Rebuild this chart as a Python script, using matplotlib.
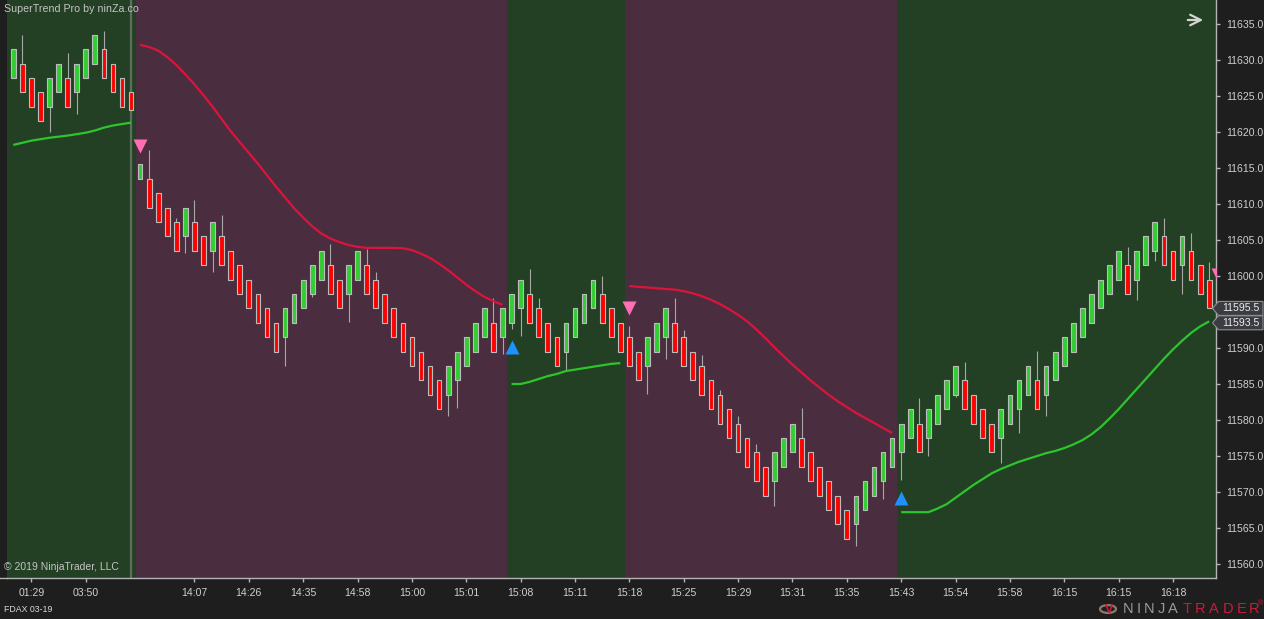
import matplotlib
matplotlib.use('Agg')
import matplotlib.pyplot as plt
import matplotlib.transforms as mtransforms
from matplotlib.patches import Rectangle, Polygon, Circle, FancyArrowPatch

plt.rcParams['font.family'] = ['Liberation Sans', 'DejaVu Sans']

# ---------------- data ----------------
opens = [11627.5, 11629.5, 11627.5, 11625.5, 11623.5, 11625.5, 11627.5, 11625.5, 11627.5, 11629.5,
         11631.5, 11629.5, 11627.5, 11625.5, 11613.5, 11613.5, 11611.5, 11609.5, 11607.5, 11605.5,
         11607.5, 11605.5, 11603.5, 11605.5, 11603.5, 11601.5, 11599.5, 11597.5, 11595.5, 11593.5,
         11591.5, 11593.5, 11595.5, 11597.5, 11599.5, 11601.5, 11599.5, 11597.5, 11599.5, 11601.5,
         11599.5, 11597.5, 11595.5, 11593.5, 11591.5, 11589.5, 11587.5, 11585.5, 11583.5, 11585.5,
         11587.5, 11589.5, 11591.5, 11593.5, 11591.5, 11593.5, 11595.5, 11597.5, 11595.5, 11593.5,
         11591.5, 11589.5, 11591.5, 11593.5, 11595.5, 11597.5, 11595.5, 11593.5, 11591.5, 11589.5,
         11587.5, 11589.5, 11591.5, 11593.5, 11591.5, 11589.5, 11587.5, 11585.5, 11583.5, 11581.5,
         11579.5, 11577.5, 11575.5, 11573.5, 11571.5, 11573.5, 11575.5, 11577.5, 11575.5, 11573.5,
         11571.5, 11569.5, 11567.5, 11565.5, 11567.5, 11569.5, 11571.5, 11573.5, 11575.5, 11577.5,
         11579.5, 11577.5, 11579.5, 11581.5, 11583.5, 11585.5, 11583.5, 11581.5, 11579.5, 11577.5,
         11579.5, 11581.5, 11583.5, 11585.5, 11583.5, 11585.5, 11587.5, 11589.5, 11591.5, 11593.5,
         11595.5, 11597.5, 11599.5, 11601.5, 11599.5, 11601.5, 11603.5, 11605.5, 11603.5, 11601.5,
         11603.5, 11601.5, 11599.5]
closes = [11631.5, 11625.5, 11623.5, 11621.5, 11627.5, 11629.5, 11623.5, 11629.5, 11631.5, 11633.5,
          11627.5, 11625.5, 11623.5, 11623.0, 11615.5, 11609.5, 11607.5, 11605.5, 11603.5, 11609.5,
          11603.5, 11601.5, 11607.5, 11601.5, 11599.5, 11597.5, 11595.5, 11593.5, 11591.5, 11589.5,
          11595.5, 11597.5, 11599.5, 11601.5, 11603.5, 11597.5, 11595.5, 11601.5, 11603.5, 11597.5,
          11595.5, 11593.5, 11591.5, 11589.5, 11587.5, 11585.5, 11583.5, 11581.5, 11587.5, 11589.5,
          11591.5, 11593.5, 11595.5, 11589.5, 11595.5, 11597.5, 11599.5, 11593.5, 11591.5, 11589.5,
          11587.5, 11593.5, 11595.5, 11597.5, 11599.5, 11593.5, 11591.5, 11589.5, 11587.5, 11585.5,
          11591.5, 11593.5, 11595.5, 11589.5, 11587.5, 11585.5, 11583.5, 11581.5, 11579.5, 11577.5,
          11575.5, 11573.5, 11571.5, 11569.5, 11575.5, 11577.5, 11579.5, 11573.5, 11571.5, 11569.5,
          11567.5, 11565.5, 11563.5, 11569.5, 11571.5, 11573.5, 11575.5, 11577.5, 11579.5, 11581.5,
          11575.5, 11581.5, 11583.5, 11585.5, 11587.5, 11581.5, 11579.5, 11577.5, 11575.5, 11581.5,
          11583.5, 11585.5, 11587.5, 11581.5, 11587.5, 11589.5, 11591.5, 11593.5, 11595.5, 11597.5,
          11599.5, 11601.5, 11603.5, 11597.5, 11603.5, 11605.5, 11607.5, 11601.5, 11599.5, 11605.5,
          11599.5, 11597.5, 11595.5]
highs = [11631.5, 11633.5, 11627.5, 11625.5, 11627.5, 11629.5, 11631.0, 11629.5, 11631.5, 11633.5,
         11634.0, 11629.5, 11627.5, 11625.5, 11615.5, 11617.5, 11611.5, 11609.5, 11608.0, 11609.5,
         11610.5, 11605.5, 11607.5, 11608.5, 11603.5, 11601.5, 11599.5, 11597.5, 11595.5, 11593.5,
         11595.5, 11597.5, 11599.5, 11601.5, 11603.5, 11604.5, 11599.5, 11601.5, 11603.5, 11603.7,
         11600.5, 11597.5, 11595.5, 11593.5, 11591.5, 11589.5, 11587.5, 11585.5, 11587.5, 11589.5,
         11591.5, 11593.5, 11595.5, 11597.0, 11595.5, 11597.5, 11599.5, 11601.0, 11597.0, 11593.5,
         11591.5, 11593.5, 11595.5, 11597.5, 11599.5, 11600.0, 11595.5, 11593.5, 11593.0, 11589.5,
         11591.5, 11593.5, 11595.5, 11597.0, 11592.5, 11589.5, 11589.0, 11585.5, 11584.2, 11581.5,
         11580.6, 11577.5, 11576.6, 11573.5, 11575.5, 11577.5, 11579.5, 11581.6, 11575.5, 11573.5,
         11571.5, 11569.5, 11567.5, 11569.5, 11571.5, 11573.5, 11575.5, 11577.5, 11579.5, 11581.5,
         11583.0, 11581.5, 11583.5, 11585.5, 11587.5, 11588.0, 11583.5, 11581.5, 11579.5, 11581.5,
         11583.5, 11585.5, 11587.5, 11589.6, 11587.5, 11589.5, 11591.5, 11593.5, 11595.5, 11597.5,
         11599.5, 11601.5, 11603.5, 11604.0, 11603.5, 11605.5, 11607.5, 11608.0, 11603.5, 11605.5,
         11606.0, 11601.5, 11602.0]
lows = [11627.5, 11625.5, 11623.5, 11621.5, 11620.0, 11625.5, 11623.5, 11622.5, 11627.5, 11629.5,
        11627.5, 11625.5, 11623.5, 11623.0, 11613.5, 11609.5, 11607.5, 11605.5, 11603.5, 11603.2,
        11603.5, 11601.5, 11600.6, 11601.5, 11599.5, 11597.5, 11595.5, 11593.5, 11591.5, 11589.5,
        11587.5, 11593.5, 11595.5, 11597.1, 11599.5, 11597.5, 11595.5, 11593.6, 11599.5, 11597.5,
        11595.5, 11593.5, 11591.5, 11589.5, 11587.5, 11585.5, 11583.5, 11581.5, 11580.6, 11581.6,
        11587.5, 11589.5, 11591.5, 11589.5, 11589.1, 11592.6, 11591.7, 11593.5, 11591.5, 11589.5,
        11587.5, 11587.0, 11591.5, 11593.5, 11595.5, 11593.5, 11591.5, 11589.5, 11587.5, 11585.5,
        11583.6, 11589.5, 11588.5, 11589.5, 11587.5, 11585.5, 11583.5, 11581.5, 11579.5, 11577.5,
        11575.5, 11573.5, 11571.5, 11569.5, 11568.0, 11573.5, 11575.5, 11573.5, 11571.5, 11569.5,
        11567.5, 11565.5, 11563.5, 11562.5, 11567.5, 11569.5, 11569.0, 11573.5, 11571.7, 11577.5,
        11575.5, 11575.0, 11579.5, 11581.5, 11583.2, 11581.5, 11579.5, 11577.5, 11575.5, 11574.0,
        11579.5, 11578.2, 11583.5, 11581.5, 11580.6, 11585.5, 11587.5, 11589.5, 11591.5, 11593.5,
        11595.5, 11597.5, 11599.5, 11597.5, 11596.6, 11601.5, 11602.1, 11601.5, 11599.5, 11597.5,
        11599.5, 11597.5, 11595.5]

# SuperTrend Pro line value per bar and trend state (+1 up / -1 down)
supertrend = [11618.2, 11618.5, 11618.8, 11619.0, 11619.2, 11619.35, 11619.5, 11619.7, 11619.9, 11620.2,
              11620.6, 11620.9, 11621.1, 11621.3,
              11632.1, 11631.8, 11631.3, 11630.4, 11629.3, 11628.0, 11626.6, 11625.1, 11623.5, 11621.8,
              11620.1, 11618.6, 11617.1, 11615.6, 11614.0, 11612.4, 11610.9, 11609.4, 11608.1, 11606.9,
              11605.9, 11605.2, 11604.7, 11604.3, 11604.05, 11603.9, 11603.9, 11603.9, 11603.9, 11603.85,
              11603.6, 11603.1, 11602.5, 11601.7, 11600.8, 11599.8, 11598.8, 11597.9, 11597.1, 11596.5,
              11596.0,
              11585.0, 11585.0, 11585.3, 11585.7, 11586.1, 11586.4, 11586.8, 11587.0, 11587.2, 11587.4,
              11587.6, 11587.8, 11587.9,
              11598.6, 11598.5, 11598.4, 11598.3, 11598.2, 11598.1, 11597.9, 11597.6, 11597.2, 11596.7,
              11596.1, 11595.4, 11594.6, 11593.7, 11592.6, 11591.4, 11590.1, 11588.9, 11587.7, 11586.6,
              11585.5, 11584.5, 11583.5, 11582.6, 11581.8, 11581.0, 11580.3, 11579.6, 11578.9, 11578.2,
              11567.2, 11567.2, 11567.2, 11567.2, 11567.7, 11568.3, 11569.2, 11570.1, 11571.0, 11571.8,
              11572.6, 11573.2, 11573.7, 11574.2, 11574.6, 11575.0, 11575.4, 11575.7, 11576.1, 11576.6,
              11577.2, 11578.0, 11579.0, 11580.2, 11581.5, 11582.9, 11584.3, 11585.7, 11587.1, 11588.5,
              11589.8, 11591.0, 11592.1, 11593.0, 11593.7]
trend = [1] * 14 + [-1] * 41 + [1] * 13 + [-1] * 30 + [1] * 35

sell_bars = [14, 68, 133]
sell_prices = [11618.0, 11595.6, 11600.1]
buy_bars = [55, 98]
buy_prices = [11590.1, 11569.2]

session_break_bar = 13

tick_bars = [2, 8, 20, 26, 32, 38, 44, 50, 56, 62, 68, 74, 80, 86, 92, 98, 104, 110, 116, 122, 128]
tick_labels = ['01:29', '03:50', '14:07', '14:26', '14:35', '14:58', '15:00', '15:01', '15:08',
               '15:11', '15:18', '15:25', '15:29', '15:31', '15:35', '15:43', '15:54', '15:58',
               '16:15', '16:15', '16:18']
y_ticks = [11560, 11565, 11570, 11575, 11580, 11585, 11590, 11595, 11600, 11605, 11610, 11615,
           11620, 11625, 11630, 11635]

last_close = 11595.5
last_stop = 11593.5

# ---------------- style ----------------
BG = '#1e1e1e'
UP_BG = '#234024'
DN_BG = '#4a2e3f'
UP_C = '#32cd32'
DN_C = '#ff0000'
LINE_UP = '#2ec42e'
LINE_DN = '#dc143c'
TXT = '#cfcfcf'
AXC = '#b4b4b4'

W, H = 1264, 619
fig = plt.figure(figsize=(W / 100, H / 100), dpi=100, facecolor=BG)
ax = fig.add_axes([7 / W, 41 / H, 1209 / W, 578 / H])
ax.set_facecolor(BG)
ax.set_xlim(-0.693, 132.75)
ax.set_ylim(11558.06, 11638.33)

# background trend regions
n = len(trend)
start = 0
for i in range(1, n + 1):
    if i == n or trend[i] != trend[start]:
        x0 = start - 0.5 if start > 0 else -5
        x1 = i - 0.5 if i < n else n + 5
        ax.axvspan(x0, x1, color=UP_BG if trend[start] > 0 else DN_BG, lw=0, zorder=0)
        start = i

ax.axvline(session_break_bar, color='#5e6e5e', lw=1.6, zorder=0.5)

# candles
bw = 0.52
for i in range(n):
    o, c, h, l = opens[i], closes[i], highs[i], lows[i]
    ax.vlines(i, l, h, color='#a8a8a8', lw=0.8, zorder=2)
    lo, hi = min(o, c), max(o, c)
    ax.add_patch(Rectangle((i - bw / 2, lo), bw, hi - lo,
                           facecolor=UP_C if c >= o else DN_C,
                           edgecolor='#bdbdbd', lw=0.8, zorder=3))

# supertrend line segments
start = 0
for i in range(1, n + 1):
    if i == n or trend[i] != trend[start]:
        xs = list(range(start, i))
        ax.plot(xs, supertrend[start:i], color=LINE_UP if trend[start] > 0 else LINE_DN,
                lw=1.6, zorder=4, solid_capstyle='butt', solid_joinstyle='round')
        start = i

# signals
ax.plot(sell_bars, sell_prices, 'v', color='#ff6eb4', ms=9.5, mec='none', zorder=5)
ax.plot(buy_bars, buy_prices, '^', color='#1e90ff', ms=10.5, mec='none', zorder=5)

# axes styling
for s in ['left', 'top']:
    ax.spines[s].set_visible(False)
for s in ['bottom', 'right']:
    ax.spines[s].set_color(AXC)
    ax.spines[s].set_linewidth(1.0)
ax.yaxis.tick_right()
ax.set_yticks(y_ticks)
# the 11595.0 label sits behind the last-value boxes in the reference
ax.set_yticklabels(['' if abs(v - last_close) < 2 else f'{v:.1f}' for v in y_ticks])
ax.set_xticks(tick_bars)
ax.set_xticklabels(tick_labels)
ax.tick_params(axis='y', colors=AXC, labelcolor=TXT, labelsize=7.6, length=3, width=1, pad=4)
ax.tick_params(axis='x', colors=AXC, labelcolor=TXT, labelsize=7.6, length=3, width=1, pad=4)

# extend x-axis line into the left margin
fig.add_artist(plt.Line2D([0, 7 / W], [41 / H, 41 / H], color=AXC, lw=1.0))

# last value boxes on price axis
blend = mtransforms.blended_transform_factory(fig.transFigure, ax.transData)
for val in [last_stop, last_close]:
    hh = 0.97
    verts = [(1212.5 / W, val), (1218.5 / W, val + hh), (1263 / W, val + hh),
             (1263 / W, val - hh), (1218.5 / W, val - hh)]
    ax.add_patch(Polygon(verts, closed=True, transform=blend, facecolor='#3b3b42',
                         edgecolor='#8e8e96', lw=0.8, clip_on=False, zorder=20))
    ax.text(1241 / W, val, f'{val:.1f}', transform=blend, color='#ececec', fontsize=7.6,
            ha='center', va='center', clip_on=False, zorder=21)

# texts
fig.text(4 / W, 1 - 9 / H, 'SuperTrend Pro by ninZa.co', color='#c4c4c4', fontsize=7.7,
         ha='left', va='center')
fig.text(4 / W, 1 - 567 / H, '© 2019 NinjaTrader, LLC', color='#c4c4c4', fontsize=7.5,
         ha='left', va='center')
fig.text(4 / W, 1 - 609 / H, 'FDAX 03-19', color='#d8d8d8', fontsize=6.3, ha='left', va='center')

# arrow top right
fig.add_artist(FancyArrowPatch((1185 / W, 1 - 20 / H), (1206 / W, 1 - 20 / H),
               transform=fig.transFigure, arrowstyle='->', mutation_scale=19,
               color='#d4d4d4', lw=1.6))

# NinjaTrader logo
letters = list('NINJATRADER')
centers = [1128, 1138.6, 1149.4, 1161.5, 1172.8, 1186.8, 1200.5, 1213.8, 1228.5, 1241.5, 1254]
for k, (ch, cx) in enumerate(zip(letters, centers)):
    fig.text(cx / W, 1 - 609 / H, ch, color='#9a9a9a' if k < 5 else '#c41e3a',
             fontsize=10.5, ha='center', va='center')
fig.text(1261 / W, 1 - 604 / H, '®', color='#c41e3a', fontsize=5, ha='center', va='center')
fig.add_artist(Circle((1108 / W, 1 - 609 / H), 8 / W, transform=fig.transFigure,
                      facecolor='none', edgecolor='#8c7c6c', lw=1.6))
fig.text(1109 / W, 1 - 610 / H, 'V', color='#c41e3a', fontsize=9, fontweight='bold',
         ha='center', va='center')

fig.savefig('out.png', dpi=100, facecolor=BG)
